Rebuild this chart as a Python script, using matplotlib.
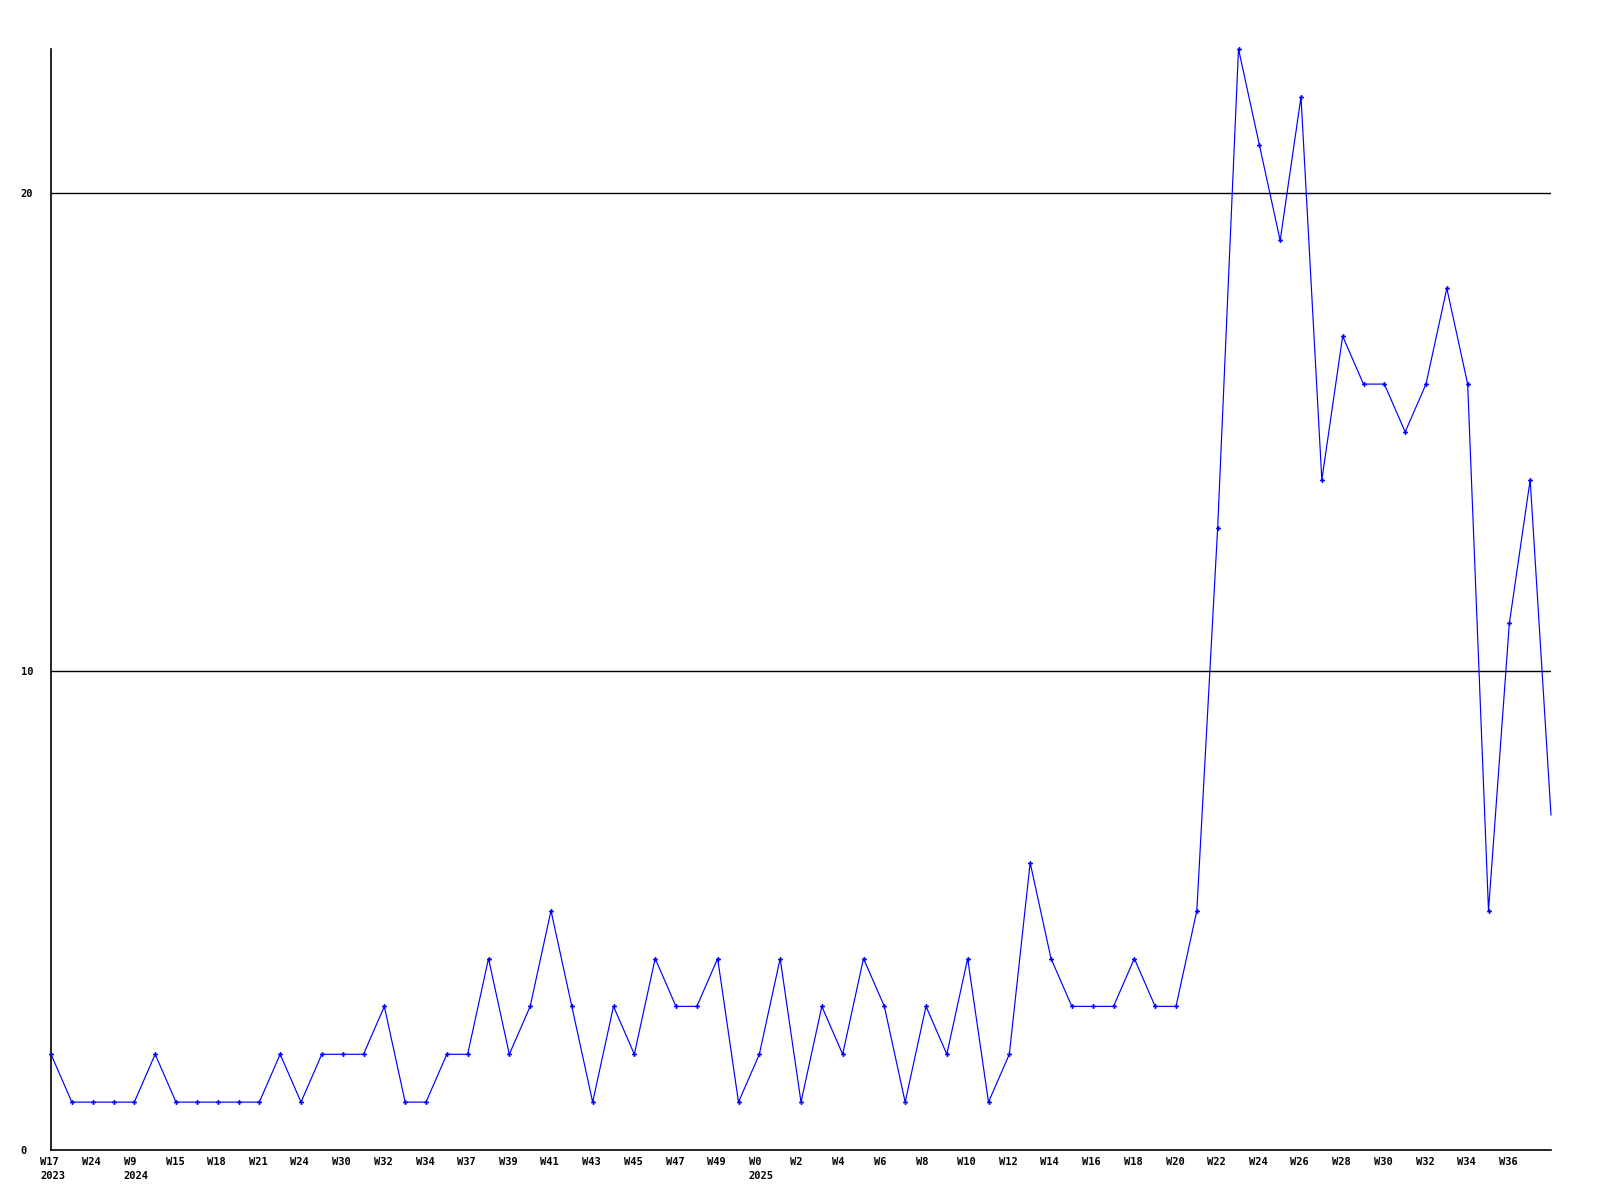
import matplotlib
matplotlib.use("Agg")
import matplotlib.pyplot as plt
import matplotlib.transforms as mtransforms

values = [2, 1, 1, 1, 1, 2, 1, 1, 1, 1, 1, 2, 1, 2, 2, 2, 3, 1, 1, 2,
          2, 4, 2, 3, 5, 3, 1, 3, 2, 4, 3, 3, 4, 1, 2, 4, 1, 3, 2, 4,
          3, 1, 3, 2, 4, 1, 2, 6, 4, 3, 3, 3, 4, 3, 3, 5, 13, 23, 21, 19,
          22, 14, 17, 16, 16, 15, 16, 18, 16, 5, 11, 14, 7]

tick_labels = ["W17\n2023", "W24", "W9\n2024", "W15", "W18", "W21", "W24", "W30",
               "W32", "W34", "W37", "W39", "W41", "W43", "W45", "W47", "W49",
               "W0\n2025", "W2", "W4", "W6", "W8", "W10", "W12", "W14", "W16",
               "W18", "W20", "W22", "W24", "W26", "W28", "W30", "W32", "W34", "W36"]
y_ticks = [0, 10, 20]

fig = plt.figure(figsize=(16, 12), dpi=100)
ax = fig.add_axes([51 / 1600, 1 - 1150 / 1200, 1500 / 1600, (1150 - 49) / 1200])

x = list(range(len(values)))
ax.plot(x, values, color="#0000ff", linewidth=0.85, marker="P", markersize=3.5,
        markeredgewidth=0, markevery=list(range(len(values) - 1)),
        clip_on=False, zorder=3)

ax.set_xlim(0, len(values) - 1)
ax.set_ylim(0, max(values))

for v in y_ticks[1:]:
    ax.axhline(v, color="black", linewidth=1.0, zorder=1)

for s in ["top", "right"]:
    ax.spines[s].set_visible(False)
for s in ["left", "bottom"]:
    ax.spines[s].set_linewidth(1.2)
    ax.spines[s].set_color("black")

font = dict(family="DejaVu Sans Mono", weight="bold", size=7.5)

ax.set_yticks(y_ticks)
ax.set_yticklabels([str(v) for v in y_ticks], **font)
ax.tick_params(axis="y", length=0, pad=0)
yoff = mtransforms.ScaledTranslation(-0.305, 0, fig.dpi_scale_trans)
for lab in ax.get_yticklabels():
    lab.set_horizontalalignment("left")
    lab.set_transform(lab.get_transform() + yoff)

ax.set_xticks([2 * i for i in range(len(tick_labels))])
ax.set_xticklabels(tick_labels, linespacing=1.55, **font)
ax.tick_params(axis="x", length=0, pad=5)
offset = mtransforms.ScaledTranslation(-0.105, 0, fig.dpi_scale_trans)
for lab in ax.get_xticklabels():
    lab.set_horizontalalignment("left")
    lab.set_multialignment("left")
    lab.set_transform(lab.get_transform() + offset)

fig.savefig("out.png", dpi=100, facecolor="white")
